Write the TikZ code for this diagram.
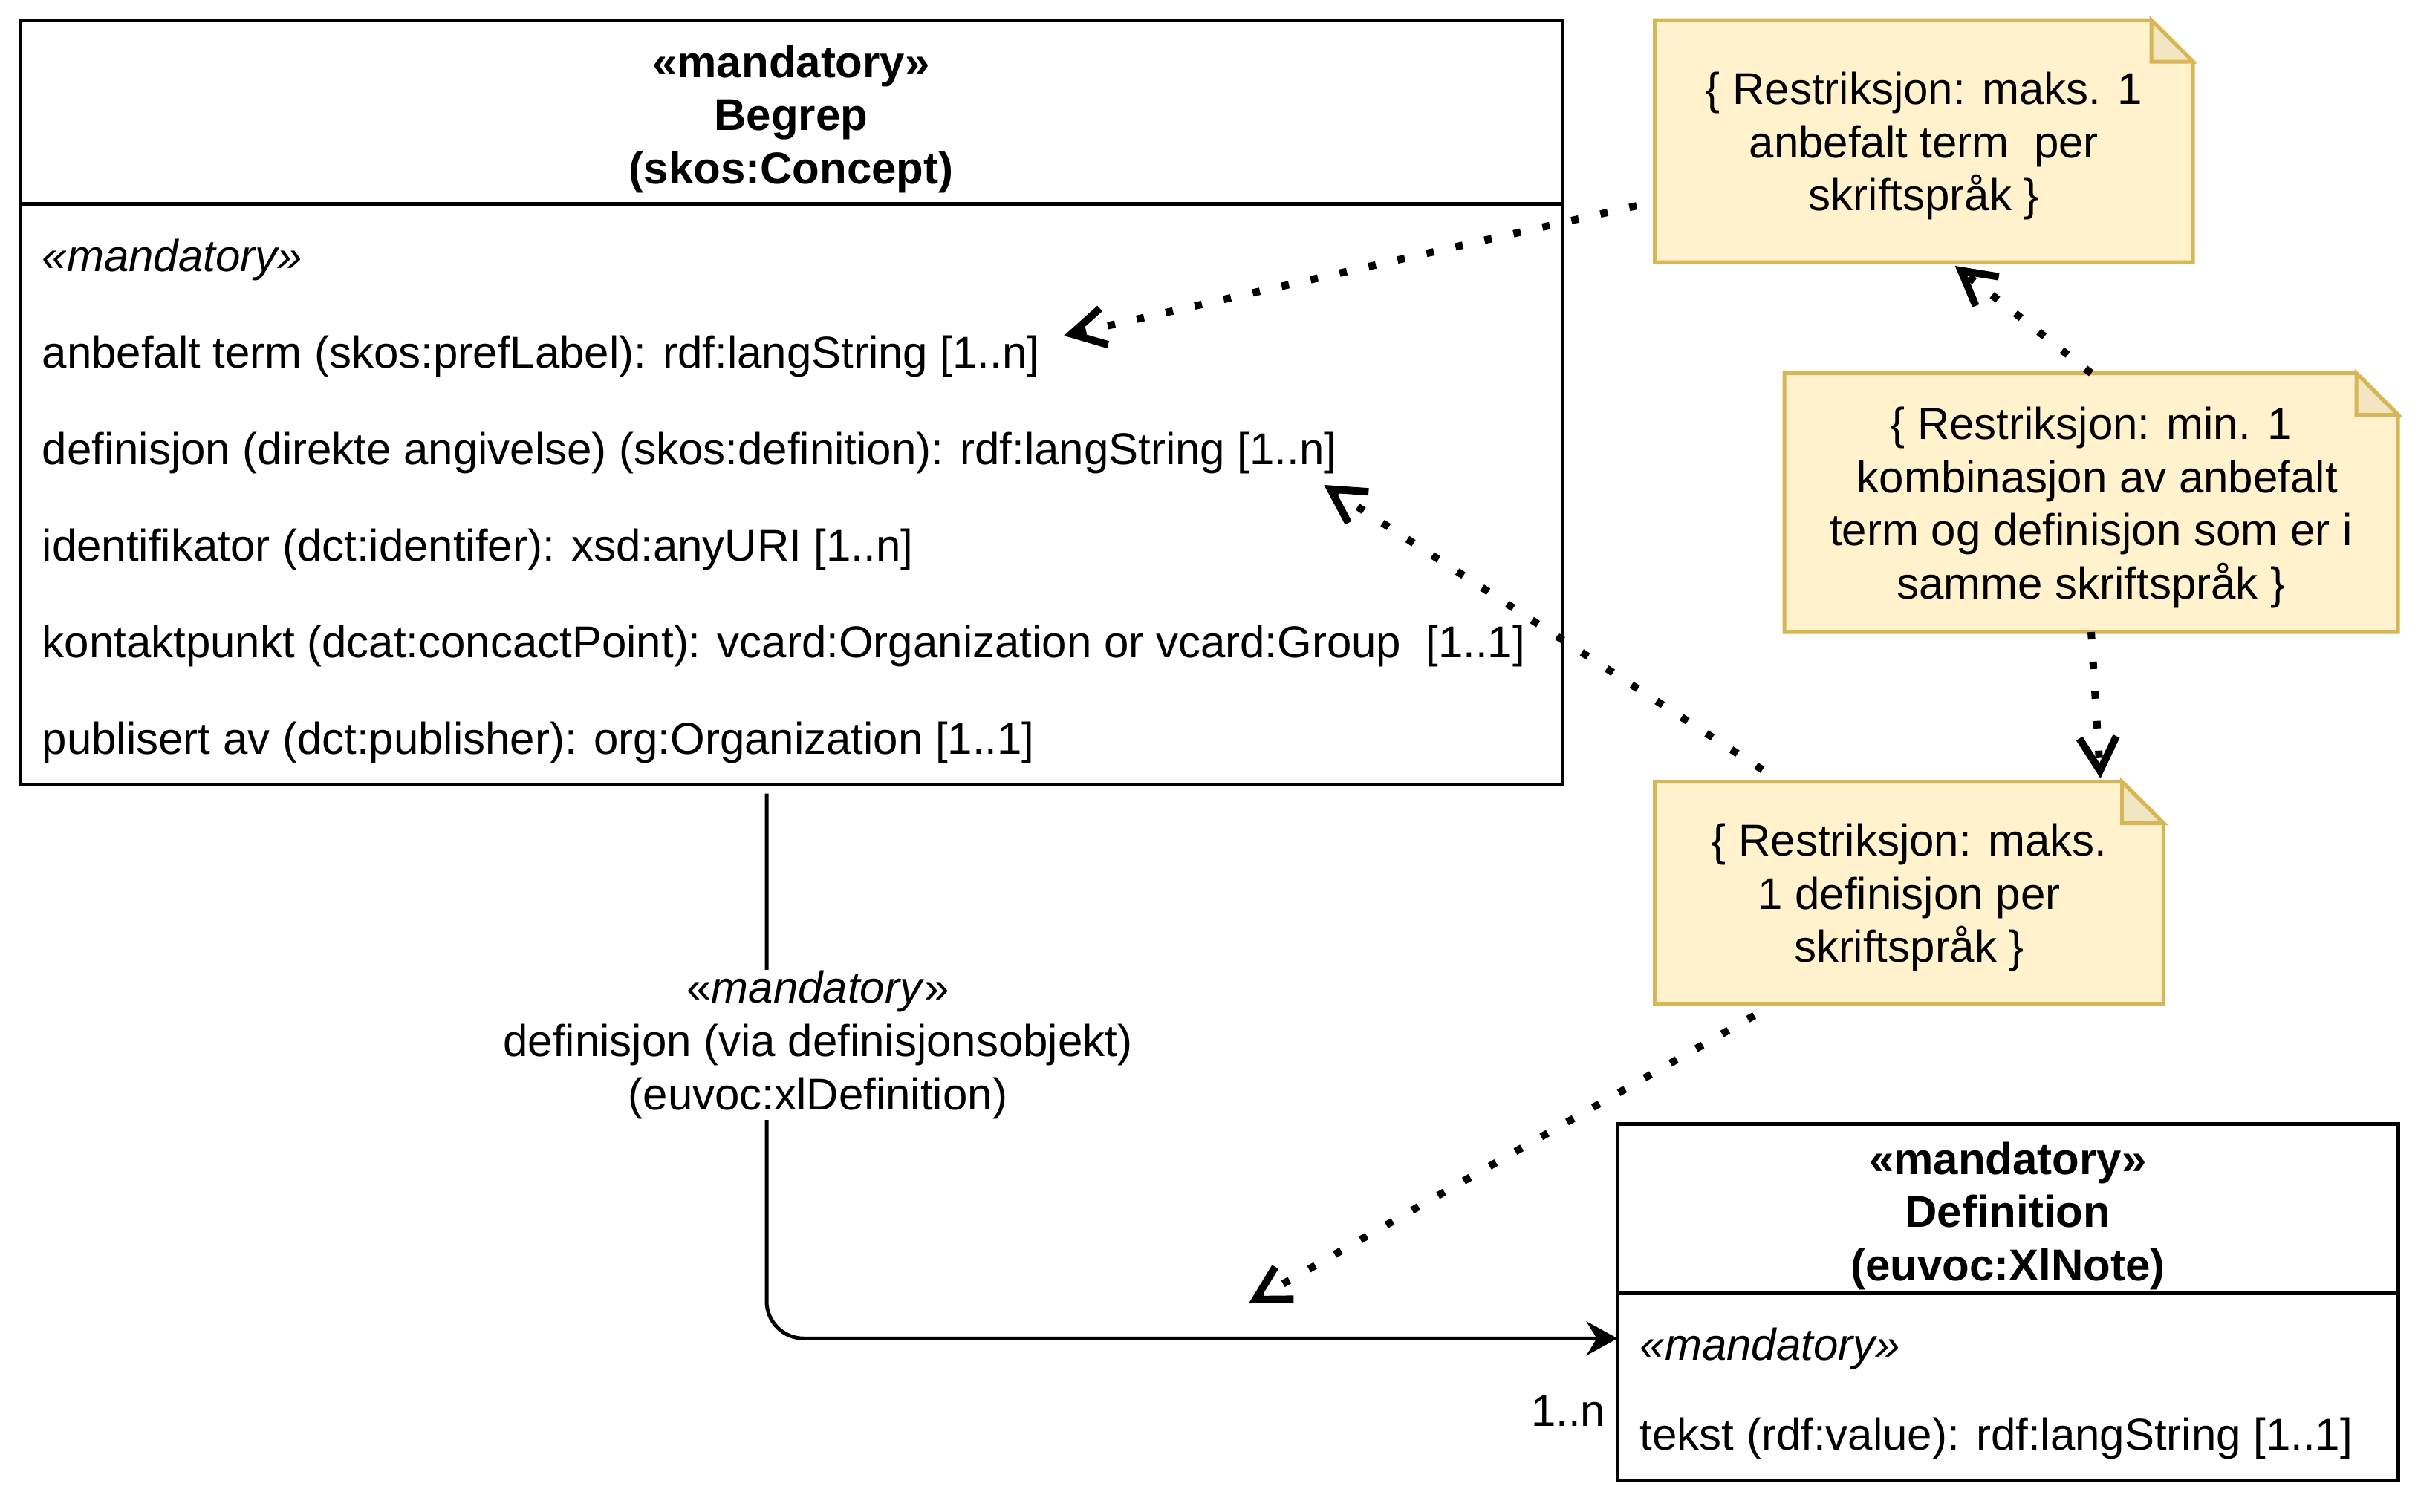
\documentclass[tikz,border=0pt]{standalone}
\usepackage{fontspec}
\setmainfont{Liberation Sans}
\usepackage{tikz}
\usetikzlibrary{arrows.meta,calc}

\definecolor{notefill}{HTML}{FFF2CC}
\definecolor{noteline}{HTML}{D6B656}
\definecolor{notefold}{RGB}{242,230,194}
\newcommand{\umlfont}{\fontsize{17.07pt}{20.4pt}\selectfont}
\newcommand{\headgap}{\rule{0pt}{17.9pt}}
\newcommand{\notegap}{\rule{0pt}{16.2pt}}

\begin{document}
\begin{tikzpicture}[x=1mm, y=-1mm, font=\umlfont,
  classhead/.style={draw, line width=0.5mm, outer sep=0pt, inner ysep=0pt, align=center, font=\umlfont\bfseries, anchor=north west},
  classbody/.style={draw, line width=0.5mm, outer sep=0pt, anchor=north west},
  attr/.style={anchor=west, inner sep=0pt, text height=12.5pt, text depth=3.5pt},
  note/.style={fill=notefill, outer sep=0pt, inner ysep=0pt, align=center, anchor=north west},
  noteedge/.style={draw=noteline, line width=0.5mm, line join=miter},
  constraint/.style={line width=1mm, dash pattern=on 1mm off 3mm, -{Straight Barb[length=4.5mm, width=5mm]}},
  assoc/.style={line width=0.5mm, rounded corners=5mm, -{Stealth[length=4.2mm, width=4.6mm, inset=1.4mm]}},
  rolelabel/.style={fill=white, inner sep=0.5pt, align=center}]

\path[fill=white, use as bounding box] (0,0) rectangle (325.5,203.5);

% class Begrep
\node[classhead, minimum width=207.6mm, minimum height=24.7mm] (begrep) at (2.7,2.7)
  {\headgap«mandatory»\\Begrep\\(skos:Concept)};
\node[classbody, minimum width=207.6mm, minimum height=78.25mm] (begrepbody) at (begrep.south west) {};
\node[attr] (a0) at (5.6,35.0) {\textit{«mandatory»}};
\node[attr] (a1) at (5.6,48.0) {anbefalt term (skos:prefLabel): rdf:langString [1..n]};
\node[attr] (a2) at (5.6,61.0) {definisjon (direkte angivelse) (skos:definition): rdf:langString [1..n]};
\node[attr] (a3) at (5.6,74.0) {identifikator (dct:identifer): xsd:anyURI [1..n]};
\node[attr] (a4) at (5.6,87.0) {kontaktpunkt (dcat:concactPoint): vcard:Organization or vcard:Group\ \ [1..1]};
\node[attr] (a5) at (5.6,100.0) {publisert av (dct:publisher): org:Organization [1..1]};

% class Definition
\node[classhead, minimum width=105.05mm, minimum height=22.8mm] (def) at (217.75,151.35)
  {\headgap«mandatory»\\Definition\\(euvoc:XlNote)};
\node[classbody, minimum width=105.05mm, minimum height=25.15mm] (defbody) at (def.south west) {};
\node[attr] (d0) at (220.7,181.6) {\textit{«mandatory»}};
\node[attr] (d1) at (220.7,193.65) {tekst (rdf:value): rdf:langString [1..1]};

% restriction notes
\node[note, minimum width=72.45mm, minimum height=32.6mm] (r1) at (222.75,2.7)
  {\notegap\{ Restriksjon: maks. 1\\anbefalt term\ \ per\\skriftspråk \}};
\node[note, minimum width=82.6mm, minimum height=34.85mm] (r2) at (240.2,50.25)
  {\notegap\{ Restriksjon: min. 1\\\ kombinasjon av anbefalt\\term og definisjon som er i\\samme skriftspråk \}};
\node[note, minimum width=68.5mm, minimum height=29.9mm] (r3) at (222.75,105.25)
  {\notegap\{ Restriksjon: maks.\\1 definisjon per\\skriftspråk \}};

\foreach \n in {r1,r2,r3} {
  \fill[white] ([xshift=-5.4mm,yshift=0.3mm]\n.north east) -- ([xshift=0.3mm,yshift=0.3mm]\n.north east)
    -- ([xshift=0.3mm,yshift=-5.4mm]\n.north east) -- cycle;
  \draw[noteedge] (\n.south west) -- (\n.north west) -- ([xshift=-5.6mm]\n.north east)
    -- ([yshift=-5.6mm]\n.north east) -- (\n.south east) -- cycle;
  \draw[noteedge, fill=notefold] ([xshift=-5.6mm]\n.north east) -- ([xshift=-5.6mm,yshift=-5.6mm]\n.north east)
    -- ([yshift=-5.6mm]\n.north east) -- cycle;
}

% constraint arrows
\coordinate (loose) at (168.1,175.5);
\draw[constraint, shorten <=2.5mm] (r1) -- ([xshift=3.2mm,yshift=2.8mm]a1.east);
\draw[constraint] (r2.north) -- ([xshift=4.2mm,yshift=-0.5mm]r1.south);
\draw[constraint] (r2.south) -- ([xshift=-8.5mm,yshift=0.45mm]r3.north east);
\draw[constraint] ([xshift=14.5mm,yshift=1.6mm]r3.north west) -- ([xshift=-1.8mm,yshift=-4.3mm]a2.east);
\draw[constraint] ([xshift=13.4mm,yshift=-1.6mm]r3.south west) -- (loose);

% association
\draw[assoc] ([xshift=-3.3mm,yshift=-1.2mm]begrepbody.south) |- ([yshift=6.5mm]defbody.west);
\node[rolelabel] (role) at (110.1,140.7) {«\textit{mandatory}»\\definisjon (via definisjonsobjekt)\\(euvoc:xlDefinition)};
\node[anchor=east, inner sep=0pt] (mult) at (216.2,190.0) {1..n};
\end{tikzpicture}
\end{document}
